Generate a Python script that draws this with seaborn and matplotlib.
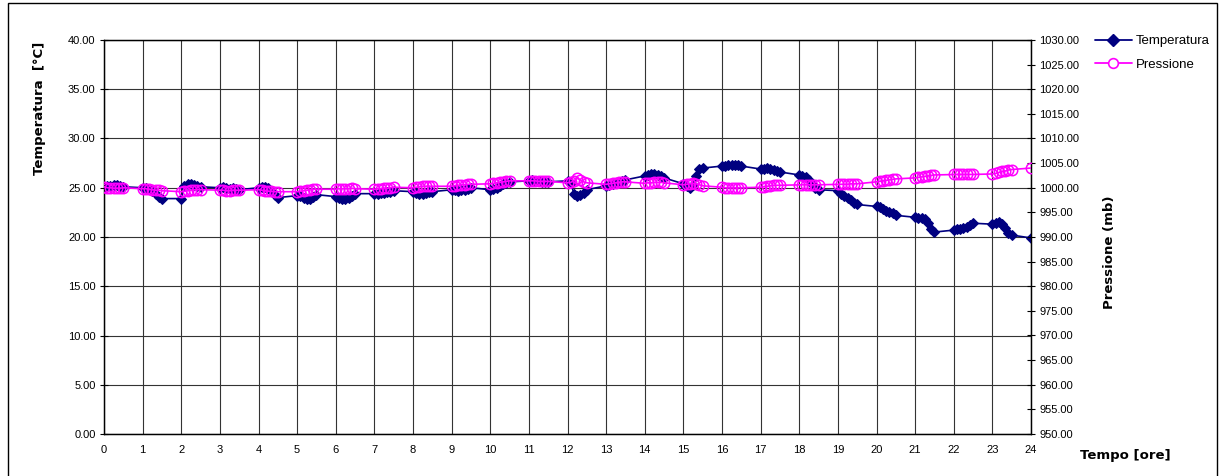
import matplotlib
matplotlib.use("Agg")
import matplotlib.pyplot as plt
import seaborn as sns
import pandas as pd
from matplotlib.lines import Line2D
from matplotlib.patches import Rectangle
from matplotlib.ticker import FormatStrFormatter

# ---------------- data ----------------
cluster_hours = list(range(24))
minute_offsets = [0, 5, 10, 15, 20, 25, 30]

temp_clusters = [
    [25.1, 25.2, 25.2, 25.3, 25.3, 25.2, 25.1],
    [25.0, 25.0, 24.9, 24.7, 24.4, 24.1, 23.9],
    [23.9, 25.2, 25.4, 25.4, 25.3, 25.2, 25.1],
    [25.0, 25.1, 25.0, 24.9, 25.0, 24.9, 24.8],
    [25.0, 25.1, 25.1, 25.0, 24.7, 24.3, 24.0],
    [24.2, 24.2, 24.0, 23.9, 23.9, 24.1, 24.3],
    [24.1, 24.0, 23.9, 23.9, 24.0, 24.2, 24.4],
    [24.4, 24.4, 24.5, 24.5, 24.6, 24.6, 24.7],
    [24.6, 24.5, 24.4, 24.4, 24.5, 24.6, 24.6],
    [24.8, 24.8, 24.7, 24.8, 24.8, 24.9, 25.0],
    [24.8, 24.9, 25.0, 25.2, 25.4, 25.5, 25.6],
    [25.7, 25.8, 25.7, 25.7, 25.6, 25.6, 25.6],
    [25.7, 25.5, 24.4, 24.2, 24.3, 24.5, 24.8],
    [25.2, 25.3, 25.4, 25.5, 25.6, 25.7, 25.8],
    [26.2, 26.3, 26.4, 26.4, 26.3, 26.2, 26.0],
    [25.4, 25.2, 25.0, 25.3, 26.2, 26.9, 27.0],
    [27.2, 27.2, 27.3, 27.3, 27.3, 27.3, 27.2],
    [26.9, 26.9, 27.0, 26.9, 26.8, 26.7, 26.6],
    [26.3, 26.2, 26.1, 25.8, 25.4, 25.0, 24.8],
    [24.7, 24.4, 24.2, 24.0, 23.8, 23.5, 23.3],
    [23.1, 23.0, 22.8, 22.6, 22.5, 22.4, 22.2],
    [22.0, 21.9, 21.9, 21.8, 21.4, 20.8, 20.5],
    [20.7, 20.8, 20.8, 20.9, 21.0, 21.2, 21.4],
    [21.3, 21.4, 21.5, 21.3, 20.9, 20.4, 20.2],
]
press_clusters = [
    [1000.2, 1000.0, 1000.0, 999.9, 999.9, 999.9, 1000.0],
    [999.8, 999.8, 999.7, 999.6, 999.5, 999.5, 999.4],
    [999.2, 999.3, 999.4, 999.5, 999.6, 999.6, 999.6],
    [999.5, 999.5, 999.4, 999.4, 999.5, 999.5, 999.5],
    [999.6, 999.5, 999.4, 999.3, 999.3, 999.2, 999.2],
    [999.2, 999.3, 999.4, 999.5, 999.6, 999.7, 999.7],
    [999.7, 999.8, 999.8, 999.8, 999.8, 999.9, 999.8],
    [999.7, 999.8, 999.8, 999.9, 999.9, 1000.0, 1000.1],
    [1000.0, 1000.1, 1000.2, 1000.3, 1000.3, 1000.3, 1000.3],
    [1000.3, 1000.4, 1000.5, 1000.6, 1000.6, 1000.7, 1000.7],
    [1000.8, 1000.9, 1001.0, 1001.1, 1001.2, 1001.3, 1001.4],
    [1001.4, 1001.4, 1001.4, 1001.3, 1001.3, 1001.3, 1001.3],
    [1001.0, 1001.1, 1001.4, 1001.9, 1001.6, 1001.2, 1001.0],
    [1000.7, 1000.8, 1000.9, 1001.0, 1001.1, 1001.2, 1001.2],
    [1000.9, 1001.0, 1001.0, 1001.1, 1001.1, 1001.1, 1001.0],
    [1000.6, 1000.7, 1000.8, 1000.9, 1000.8, 1000.6, 1000.4],
    [1000.1, 1000.0, 1000.0, 1000.0, 1000.0, 1000.0, 1000.0],
    [1000.1, 1000.2, 1000.3, 1000.4, 1000.5, 1000.5, 1000.5],
    [1000.6, 1000.6, 1000.6, 1000.6, 1000.6, 1000.6, 1000.6],
    [1000.7, 1000.7, 1000.7, 1000.7, 1000.8, 1000.8, 1000.8],
    [1001.2, 1001.3, 1001.4, 1001.5, 1001.6, 1001.7, 1001.8],
    [1002.0, 1002.1, 1002.2, 1002.3, 1002.4, 1002.5, 1002.6],
    [1002.7, 1002.7, 1002.7, 1002.7, 1002.7, 1002.7, 1002.7],
    [1002.8, 1002.9, 1003.1, 1003.3, 1003.4, 1003.6, 1003.7],
]
final_hour = 24
final_temp = 19.9
final_press = 1004.0

x_ticks = list(range(0, 25))
temp_ticks = [0, 5, 10, 15, 20, 25, 30, 35, 40]
press_ticks = [950, 955, 960, 965, 970, 975, 980, 985, 990, 995, 1000,
               1005, 1010, 1015, 1020, 1025, 1030]

# build long table
rows_t, rows_p = [], []
for h, tv, pv in zip(cluster_hours, temp_clusters, press_clusters):
    for m, t, p in zip(minute_offsets, tv, pv):
        rows_t.append((h + m / 60.0, t))
        rows_p.append((h + m / 60.0, p))
rows_t.append((final_hour, final_temp))
rows_p.append((final_hour, final_press))
df_t = pd.DataFrame(rows_t, columns=["ore", "Temperatura"])
df_p = pd.DataFrame(rows_p, columns=["ore", "Pressione"])

# ---------------- style ----------------
sns.set_style("white")
plt.rcParams["font.family"] = ["Liberation Sans", "DejaVu Sans"]
plt.rcParams["text.color"] = "black"
plt.rcParams["axes.labelcolor"] = "black"
plt.rcParams["xtick.color"] = "black"
plt.rcParams["ytick.color"] = "black"

NAVY = "#000080"
MAG = "#FF00FF"

fig = plt.figure(figsize=(12.23, 4.76), dpi=100)
ax = fig.add_axes([104 / 1223, 1 - 434 / 476, (1031 - 104) / 1223, (434 - 40) / 476])
ax2 = ax.twinx()

sns.lineplot(data=df_t, x="ore", y="Temperatura", ax=ax, estimator=None, sort=False,
             color=NAVY, marker="D", markersize=5.5, markeredgecolor=NAVY,
             markerfacecolor=NAVY, linewidth=1.2, zorder=3)
sns.lineplot(data=df_p, x="ore", y="Pressione", ax=ax2, estimator=None, sort=False,
             color=MAG, marker="o", markersize=7.5, markeredgecolor=MAG,
             markerfacecolor="none", markeredgewidth=1.1, linewidth=1.2, zorder=3)

ax.set_xlim(0, 24)
ax.set_ylim(0, 40)
ax2.set_ylim(950, 1030)
ax.set_xticks(x_ticks)
ax.set_yticks(temp_ticks)
ax2.set_yticks(press_ticks)
ax.yaxis.set_major_formatter(FormatStrFormatter("%.2f"))
ax2.yaxis.set_major_formatter(FormatStrFormatter("%.2f"))

ax.grid(True, color="#333333", linewidth=0.8)
ax.set_axisbelow(True)
for a in (ax, ax2):
    for s in a.spines.values():
        s.set_color("black")
        s.set_linewidth(0.9)
ax.tick_params(axis="both", direction="inout", length=6, width=0.8,
               labelsize=8, colors="black", labelcolor="black", pad=3)
ax.tick_params(axis="x", direction="out", length=4, pad=4)
ax2.tick_params(axis="y", direction="inout", length=6, width=0.8,
                labelsize=8, colors="black", labelcolor="black", pad=3)

ax.set_xlabel("")
ax.set_ylabel("")
ax2.set_ylabel("")

fig.text(40 / 1223, 1 - 108 / 476, "Temperatura  [°C]", rotation=90,
         ha="center", va="center", fontsize=9.5, fontweight="bold",
         family="DejaVu Sans", color="black")
fig.text(1110 / 1223, 1 - 252 / 476, "Pressione (mb)", rotation=90,
         ha="center", va="center", fontsize=9.5, fontweight="bold",
         family="DejaVu Sans", color="black")
fig.text(1125 / 1223, 1 - 456 / 476, "Tempo [ore]",
         ha="center", va="center", fontsize=9.5, fontweight="bold",
         family="DejaVu Sans", color="black")

handles = [
    Line2D([], [], color=NAVY, marker="D", markersize=6, linewidth=1.3,
           markerfacecolor=NAVY),
    Line2D([], [], color=MAG, marker="o", markersize=7, linewidth=1.3,
           markerfacecolor="white", markeredgewidth=1.2),
]
leg = fig.legend(handles, ["Temperatura", "Pressione"], loc="upper left",
                 bbox_to_anchor=(1095 / 1223, 1 - 35 / 476), frameon=False,
                 fontsize=9.5, handlelength=2.8, handletextpad=0.3,
                 labelspacing=0.85, borderpad=0, borderaxespad=0)
for t in leg.get_texts():
    t.set_color("black")

# chart area border
fig.patches.append(Rectangle((8 / 1223, -0.05), (1217 - 8) / 1223, 1.05 - 3 / 476,
                             transform=fig.transFigure, fill=False,
                             edgecolor="black", linewidth=1.0))

fig.savefig("out.png", dpi=100)
